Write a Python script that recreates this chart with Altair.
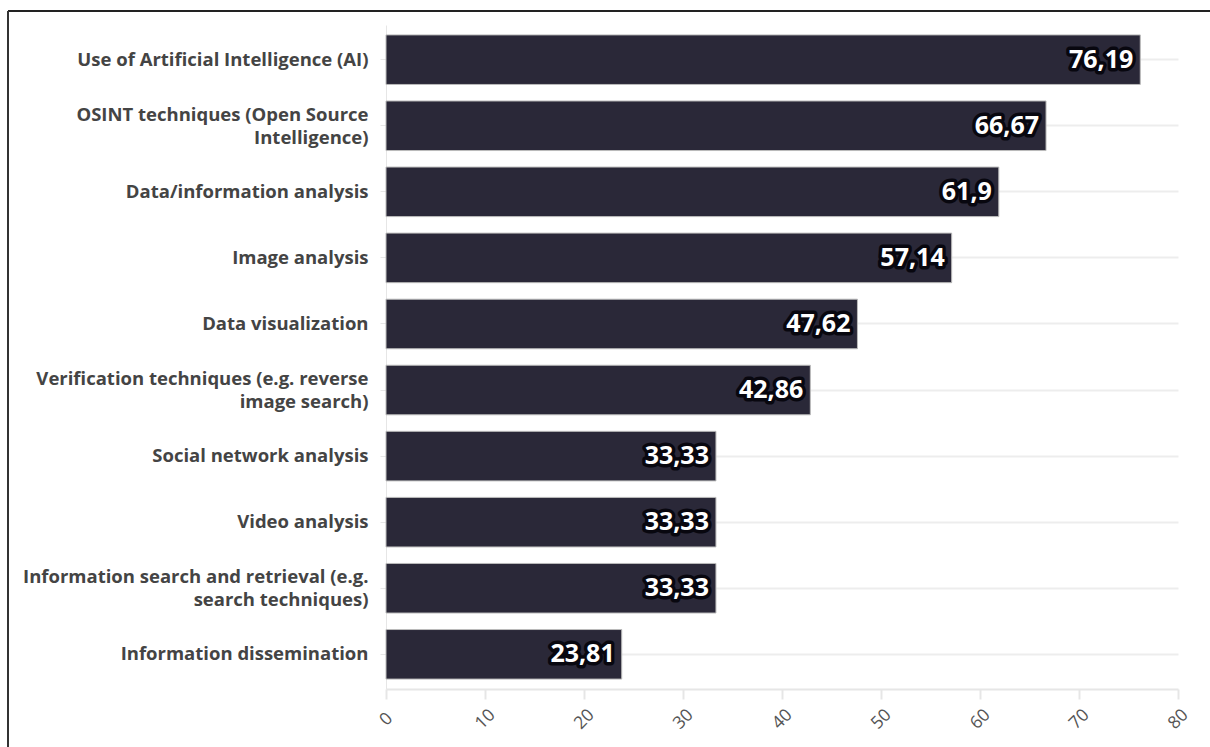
import altair as alt
import pandas as pd

categories = [
    "Use of Artificial Intelligence (AI)",
    "OSINT techniques (Open Source|Intelligence)",
    "Data/information analysis",
    "Image analysis",
    "Data visualization",
    "Verification techniques (e.g. reverse|image search)",
    "Social network analysis",
    "Video analysis",
    "Information search and retrieval (e.g.|search techniques)",
    "Information dissemination",
]
values = [76.19, 66.67, 61.9, 57.14, 47.62, 42.86, 33.33, 33.33, 33.33, 23.81]
value_labels = [str(v).replace(".", ",") for v in values]
x_ticks = [0, 10, 20, 30, 40, 50, 60, 70, 80]

df = pd.DataFrame({"cat": categories, "value": values, "label": value_labels})

FONT = "Open Sans"

y_enc = alt.Y(
    "cat:N",
    sort=categories,
    title=None,
    scale=alt.Scale(paddingInner=0.25, paddingOuter=0.15),
    axis=alt.Axis(
        labelExpr="split(datum.label, '|')",
        labelFont=FONT,
        labelFontWeight="bold",
        labelFontSize=18.5,
        labelColor="#444444",
        labelLineHeight=23,
        labelLimit=400,
        labelPadding=12,
        labelOffset={"condition": {"test": "indexof(datum.value, '|') >= 0", "value": -11}, "value": 0},
        tickColor="#e6e6e6",
        tickSize=6,
        domainColor="#e6e6e6",
        grid=True,
        gridColor="#ededed",
        gridWidth=2,
    ),
)

x_enc = alt.X(
    "value:Q",
    title=None,
    scale=alt.Scale(domain=[0, 80], nice=False),
    axis=alt.Axis(
        values=x_ticks,
        labelAngle=-45,
        labelFont=FONT,
        labelFontSize=17.5,
        labelColor="#555555",
        labelAlign="center",
        labelBaseline="middle",
        labelPadding=20,
        tickColor="#e6e6e6",
        tickSize=10,
        tickWidth=2,
        domainColor="#e6e6e6",
        domainWidth=2,
        grid=False,
    ),
)

bars = alt.Chart(df).mark_bar(color="#2a2838", stroke="#bbbbbb", strokeWidth=1).encode(
    x=x_enc, y=y_enc
)

halo = alt.Chart(df).mark_text(
    align="right", dx=-7, font=FONT, fontWeight="bold", fontSize=25,
    color="#08070f", stroke="#08070f", strokeWidth=7, strokeJoin="round",
).encode(x="value:Q", y=alt.Y("cat:N", sort=categories), text="label:N")

txt = alt.Chart(df).mark_text(
    align="right", dx=-7, font=FONT, fontWeight="bold", fontSize=25, color="white",
).encode(x="value:Q", y=alt.Y("cat:N", sort=categories), text="label:N")

frame_top = alt.Chart(df).mark_rule(color="#222222", strokeWidth=2).encode(
    x=alt.value(-378), x2=alt.value(900), y=alt.value(-14)
)
frame_left = alt.Chart(df).mark_rule(color="#333333", strokeWidth=2).encode(
    x=alt.value(-378), y=alt.value(-14), y2=alt.value(760)
)

chart = alt.layer(bars, halo, txt, frame_top, frame_left).properties(
    width=792,
    height=664,
    autosize=alt.AutoSizeParams(type="none"),
    padding={"left": 386, "top": 25, "right": 32, "bottom": 58},
).configure(background="white").configure_view(strokeWidth=0, stroke=None)

chart.save("out.html", embed_options={"renderer": "svg", "actions": False})
